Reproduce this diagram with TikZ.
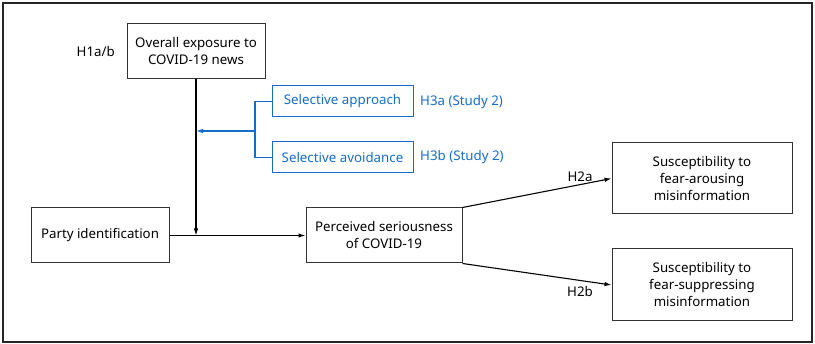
\documentclass[tikz,border=0pt]{standalone}
\usepackage{fontspec}
\setmainfont{Noto Sans}
\usetikzlibrary{arrows.meta}
\definecolor{hblue}{RGB}{20,110,200}
\begin{document}
\begin{tikzpicture}[x=1pt,y=-1pt,
  fnt/.style={font=\fontsize{13.3}{17}\selectfont},
  box/.style={fnt,draw=black!80,line width=1pt,align=center,inner sep=0pt},
  bbox/.style={fnt,draw=hblue,line width=1pt,align=center,inner sep=0pt,text=hblue},
  lbl/.style={fnt,inner sep=0pt},
  arr/.style={line width=1.1pt,-{Latex[length=7pt,width=4.5pt]}},
  barr/.style={draw=hblue,line width=1.1pt,-{Latex[length=7pt,width=4.5pt]}}]
\useasboundingbox (0,0) rectangle (815,344);
\draw[line width=1.1pt,black!85] (3,3) rectangle (812,342);
% nodes
\node[box,minimum width=138pt,minimum height=55pt] (exp) at (196,51.5) {Overall exposure to\\COVID-19 news};
\node[lbl,anchor=east] (h1) at (115,51.5) {H1a/b};
\node[bbox,minimum width=141pt,minimum height=31pt] (sa) at (342.5,101.5) {Selective approach};
\node[bbox,minimum width=141pt,minimum height=31pt] (sv) at (342.5,157.5) {Selective avoidance};
\node[lbl,anchor=west,text=hblue] (h3a) at (420,102) {H3a (Study 2)};
\node[lbl,anchor=west,text=hblue] (h3b) at (420,157) {H3b (Study 2)};
\node[box,minimum width=138pt,minimum height=55pt] (party) at (100,235.5) {Party identification};
\node[box,minimum width=156pt,minimum height=55pt] (per) at (384,235.5) {Perceived seriousness\\of COVID-19};
\node[box,minimum width=180pt,minimum height=71pt] (fa) at (702,178.5) {Susceptibility to\\fear-arousing\\misinformation};
\node[box,minimum width=180pt,minimum height=72pt] (fs) at (702,285) {Susceptibility to\\fear-suppressing\\misinformation};
\node[lbl] (h2a) at (580,177) {H2a};
\node[lbl] (h2b) at (580,292) {H2b};
% connectors
\coordinate (mid) at (exp.south |- party.east);
\coordinate (bj) at (255,131);
\coordinate (bt) at (exp.south |- bj);
\draw[arr] (party.east) -- (per.west);
\draw[arr] (exp.south) -- (mid);
\draw[hblue,line width=1.1pt] (sa.west) -| (bj) |- (sv.west);
\draw[barr] (bj) -- (bt);
\draw[arr] (per.north east) -- (fa.west);
\draw[arr] (per.south east) -- (fs.west);
\end{tikzpicture}
\end{document}
